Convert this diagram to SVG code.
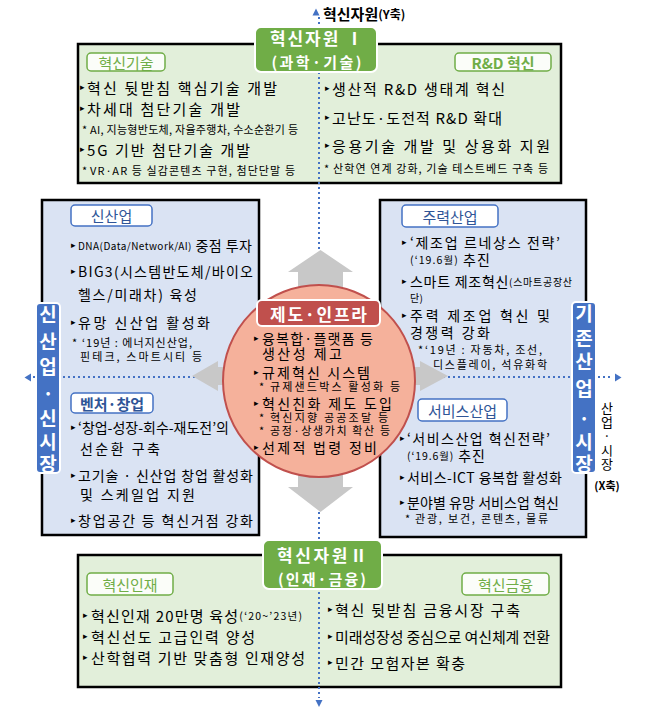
<svg xmlns="http://www.w3.org/2000/svg" width="645" height="716" viewBox="0 0 645 716">
<defs>
<style>
text{font-family:"Noto Sans CJK KR","Noto Sans",sans-serif;dominant-baseline:central;fill:#000}
.m15{font-size:15px}
.m14{font-size:14px}
.s{font-size:11px}
.xs{font-size:10px}
.bu{font-family:"DejaVu Sans",sans-serif;font-size:9px}
.gbox{fill:#e2efda;stroke:#000;stroke-width:2.5}
.bbox{fill:#dae3f3;stroke:#000;stroke-width:2.5}
.glab{fill:#fbfdf9;stroke:#70ad47;stroke-width:1.5}
.blab{fill:#fff;stroke:#4472c4;stroke-width:1.5}
.gtx{fill:#70ad47;font-size:15px;text-anchor:middle}
.btx{fill:#2f5597;font-size:15px;text-anchor:middle}
.tab{fill:#70ad47;stroke:#fff;stroke-width:2}
.tabt{fill:#fff;font-weight:bold;text-anchor:middle}
.side{fill:#4472c4;stroke:#fff;stroke-width:2}
.sidet{fill:#fff;font-weight:bold;font-size:19px;text-anchor:middle}
.dot{stroke:#4472c4;stroke-width:2;stroke-dasharray:2 3;fill:none}
.arr{fill:#c8c8c8}
.ah{fill:#4472c4}
</style>
</defs>
<rect width="645" height="716" fill="#fff"/>

<!-- boxes -->
<g id="box-tech">
<rect class="gbox" x="78" y="44" width="483" height="139"/>
<rect class="glab" x="87" y="53" width="78" height="18" rx="4"/>
<text class="gtx" x="126" y="62">혁신기술</text>
<text class="bu" x="80" y="87">▸</text><text class="m15" x="87" y="87" textLength="190">혁신 뒷받침 핵심기술 개발</text>
<text class="bu" x="80" y="108">▸</text><text class="m15" x="87" y="108" textLength="153">차세대 첨단기술 개발</text>
<text class="s" x="82" y="129">*</text><text class="s" x="90" y="129" textLength="208">AI, 지능형반도체, 자율주행차, 수소순환기 등</text>
<text class="bu" x="80" y="149">▸</text><text class="m15" x="87" y="149" textLength="163">5G 기반 첨단기술 개발</text>
<text class="s" x="82" y="170">*</text><text class="s" x="90" y="170" textLength="205">VR·AR 등 실감콘텐츠 구현, 첨단단말 등</text>
<rect class="glab" x="455" y="53" width="96" height="18" rx="4"/>
<text class="gtx" x="503" y="62" font-weight="bold">R&amp;D 혁신</text>
<text class="bu" x="325" y="88">▸</text><text class="m15" x="332" y="88" textLength="173">생산적 R&amp;D 생태계 혁신</text>
<text class="bu" x="325" y="117">▸</text><text class="m15" x="332" y="117" textLength="170">고난도·도전적 R&amp;D 확대</text>
<text class="bu" x="325" y="145">▸</text><text class="m15" x="332" y="145" textLength="218">응용기술 개발 및 상용화 지원</text>
<text class="s" x="324" y="168">*</text><text class="s" x="333" y="168" textLength="215">산학연 연계 강화, 기술 테스트베드 구축 등</text>
</g>

<g id="box-new">
<rect class="bbox" x="42" y="200" width="217" height="335"/>
<rect class="blab" x="71" y="205" width="81" height="21" rx="4"/>
<text class="btx" x="111.5" y="215.5">신산업</text>
<text class="bu" x="71" y="245">▸</text><text class="m14" x="78" y="245" textLength="174"><tspan font-size="10">DNA(Data/Network/AI)</tspan> 중점 투자</text>
<text class="bu" x="71" y="271">▸</text><text class="m14" x="78" y="271" textLength="175">BIG3(시스템반도체/바이오</text>
<text class="m14" x="78" y="294" textLength="119">헬스/미래차) 육성</text>
<text class="bu" x="71" y="322">▸</text><text class="m14" x="78" y="322" textLength="132">유망 신산업 활성화</text>
<text class="s" x="72" y="342">*</text><text class="s" x="82" y="342" textLength="110">‘19년 : 에너지신산업,</text>
<text class="s" x="80" y="356" textLength="122">핀테크, 스마트시티 등</text>
<rect class="blab" x="71" y="393" width="82" height="20" rx="4"/>
<text class="btx" x="112" y="403" font-weight="bold">벤처·창업</text>
<text class="bu" x="71" y="427">▸</text><text class="m14" x="78" y="427" textLength="151">‘창업-성장-회수-재도전’의</text>
<text class="m14" x="80" y="448" textLength="80">선순환 구축</text>
<text class="bu" x="71" y="475">▸</text><text class="m14" x="78" y="475" textLength="175">고기술 · 신산업 창업 활성화</text>
<text class="m14" x="80" y="494" textLength="115">및 스케일업 지원</text>
<text class="bu" x="71" y="520">▸</text><text class="m14" x="78" y="520" textLength="175">창업공간 등 혁신거점 강화</text>
</g>

<g id="box-existing">
<rect class="bbox" x="380" y="200" width="206" height="337"/>
<rect class="blab" x="402" y="205" width="96" height="22" rx="4"/>
<text class="btx" x="450" y="216">주력산업</text>
<text class="bu" x="402" y="242">▸</text><text class="m14" x="410" y="242" textLength="150">‘제조업 르네상스 전략’</text>
<text class="m14" x="410" y="259" textLength="80"><tspan font-size="10.5">(‘19.6월)</tspan> 추진</text>
<text class="bu" x="402" y="281">▸</text><text class="m14" x="410" y="281" textLength="162">스마트 제조혁신<tspan font-size="10">(스마트공장산</tspan></text>
<text class="xs" x="410" y="297" textLength="13">단)</text>
<text class="bu" x="402" y="315">▸</text><text class="m14" x="410" y="315" textLength="140">주력 제조업 혁신 및</text>
<text class="m14" x="410" y="332" textLength="80">경쟁력 강화</text>
<text class="s" x="418" y="349">*</text><text class="s" x="425" y="349" textLength="117">‘19년 : 자동차, 조선,</text>
<text class="s" x="433" y="364" textLength="114">디스플레이, 석유화학</text>
<rect class="blab" x="418" y="399" width="89" height="22" rx="4"/>
<text class="btx" x="462.5" y="410">서비스산업</text>
<text class="bu" x="400" y="438">▸</text><text class="m14" x="407" y="438" textLength="143">‘서비스산업 혁신전략’</text>
<text class="m14" x="407" y="455" textLength="78"><tspan font-size="10.5">(‘19.6월)</tspan> 추진</text>
<text class="bu" x="400" y="477">▸</text><text class="m14" x="407" y="477" textLength="155">서비스-ICT 융복합 활성화</text>
<text class="bu" x="400" y="502">▸</text><text class="m14" x="407" y="502" textLength="152">분야별 유망 서비스업 혁신</text>
<text class="s" x="405" y="518">*</text><text class="s" x="415" y="518" textLength="133">관광, 보건, 콘텐츠, 물류</text>
</g>

<g id="box-people">
<rect class="gbox" x="78" y="555" width="483" height="132"/>
<rect class="glab" x="87" y="573" width="86" height="22" rx="4"/>
<text class="gtx" x="130" y="584">혁신인재</text>
<text class="bu" x="83" y="615">▸</text><text class="m15" x="91" y="615" textLength="211">혁신인재 20만명 육성<tspan font-size="10.5">(‘20~’23년)</tspan></text>
<text class="bu" x="83" y="636">▸</text><text class="m15" x="91" y="636" textLength="164">혁신선도 고급인력 양성</text>
<text class="bu" x="83" y="657">▸</text><text class="m15" x="91" y="657" textLength="214">산학협력 기반 맞춤형 인재양성</text>
<rect class="glab" x="462" y="573" width="87" height="22" rx="4"/>
<text class="gtx" x="505.5" y="584">혁신금융</text>
<text class="bu" x="328" y="609">▸</text><text class="m15" x="335" y="609" textLength="185">혁신 뒷받침 금융시장 구축</text>
<text class="bu" x="328" y="636">▸</text><text class="m15" x="335" y="636" textLength="215">미래성장성 중심으로 여신체계 전환</text>
<text class="bu" x="328" y="662">▸</text><text class="m15" x="335" y="662" textLength="130">민간 모험자본 확충</text>
</g>

<!-- connectors -->
<g id="connectors">
<line class="dot" x1="319" y1="17" x2="319" y2="698"/>
<line class="dot" x1="33" y1="377" x2="612" y2="377"/>
<polygon class="ah" points="312.5,15.5 316,8.5 319.5,15.5"/>
<polygon class="ah" points="315.5,700 322.5,700 319,707"/>
<polygon class="ah" points="31,373.5 31,381.5 24.5,377.5"/>
<polygon class="ah" points="615,373.5 615,381.5 621.5,377.5"/>
<polygon class="arr" points="298,300 298,272 288,272 320.5,250 353,272 343,272 343,300"/>
<polygon class="arr" points="298,460 298,487 288,487 320.5,512 353,487 343,487 343,460"/>
<polygon class="arr" points="245,367 218,367 218,361 192,376 218,391 218,385 245,385"/>
<polygon class="arr" points="395,367 420,367 420,361 448,376 420,391 420,385 395,385"/>
</g>

<g id="node-infra">
<circle cx="319" cy="381" r="96" fill="#f5b19b" stroke="#c0504d" stroke-width="2"/>
<rect x="257" y="300" width="123" height="26" rx="5" fill="#c0504d" stroke="#fff" stroke-width="2"/>
<text class="tabt" x="318.5" y="313" font-size="17" textLength="97">제도·인프라</text>
<text class="bu" x="254" y="338">▸</text><text class="m14" x="262" y="338" textLength="111">융복합·플랫폼 등</text>
<text class="m14" x="262" y="353" font-size="13.5" textLength="80">생산성 제고</text>
<text class="bu" x="254" y="372">▸</text><text class="m14" x="262" y="372" textLength="108">규제혁신 시스템</text>
<text class="s" x="259" y="386">*</text><text class="s" x="270" y="386" textLength="130">규제샌드박스 활성화 등</text>
<text class="bu" x="254" y="403">▸</text><text class="m14" x="262" y="403" textLength="130">혁신친화 제도 도입</text>
<text class="s" x="259" y="417">*</text><text class="s" x="270" y="417" font-size="10.5" textLength="118">혁신지향 공공조달 등</text>
<text class="s" x="259" y="430">*</text><text class="s" x="270" y="430" font-size="10.5" textLength="120">공정·상생가치 확산 등</text>
<text class="bu" x="254" y="447">▸</text><text class="m14" x="262" y="447" textLength="115">선제적 법령 정비</text>
</g>

<g id="tab-resource1">
<rect class="tab" x="255" y="27" width="122" height="45" rx="6"/>
<text class="tabt" x="316.5" y="37" font-size="17" textLength="93">혁신자원 Ⅰ</text>
<text class="tabt" x="316.5" y="61" font-size="15" textLength="90">(과학·기술)</text>
</g>

<g id="tab-resource2">
<rect class="tab" x="263" y="540" width="119" height="49" rx="6"/>
<text class="tabt" x="322" y="554" font-size="17" textLength="90">혁신자원Ⅱ</text>
<text class="tabt" x="322" y="578" font-size="15" textLength="88">(인재·금융)</text>
</g>

<g id="label-new-market">
<rect class="side" x="36" y="303" width="24" height="170" rx="4"/>
<text class="sidet"><tspan x="48" y="313">신</tspan><tspan x="48" y="340">산</tspan><tspan x="48" y="365">업</tspan><tspan x="48" y="392">·</tspan><tspan x="48" y="417">신</tspan><tspan x="48" y="440">시</tspan><tspan x="48" y="462">장</tspan></text>
</g>

<g id="label-existing-market">
<rect class="side" x="572" y="302" width="24" height="171" rx="4"/>
<text class="sidet"><tspan x="584" y="312">기</tspan><tspan x="584" y="337">존</tspan><tspan x="584" y="360">산</tspan><tspan x="584" y="387">업</tspan><tspan x="584" y="417">·</tspan><tspan x="584" y="440">시</tspan><tspan x="584" y="462">장</tspan></text>
</g>

<g id="axis-labels">
<text x="323" y="13" font-weight="bold" font-size="15">혁신자원<tspan font-size="12">(Y축)</tspan></text>
<text font-size="13" text-anchor="middle"><tspan x="607" y="407">산</tspan><tspan x="607" y="421">업</tspan><tspan x="607" y="435">·</tspan><tspan x="607" y="449">시</tspan><tspan x="607" y="463">장</tspan></text>
<text x="607" y="485" font-size="11" font-weight="bold" text-anchor="middle">(X축)</text>
</g>
</svg>
